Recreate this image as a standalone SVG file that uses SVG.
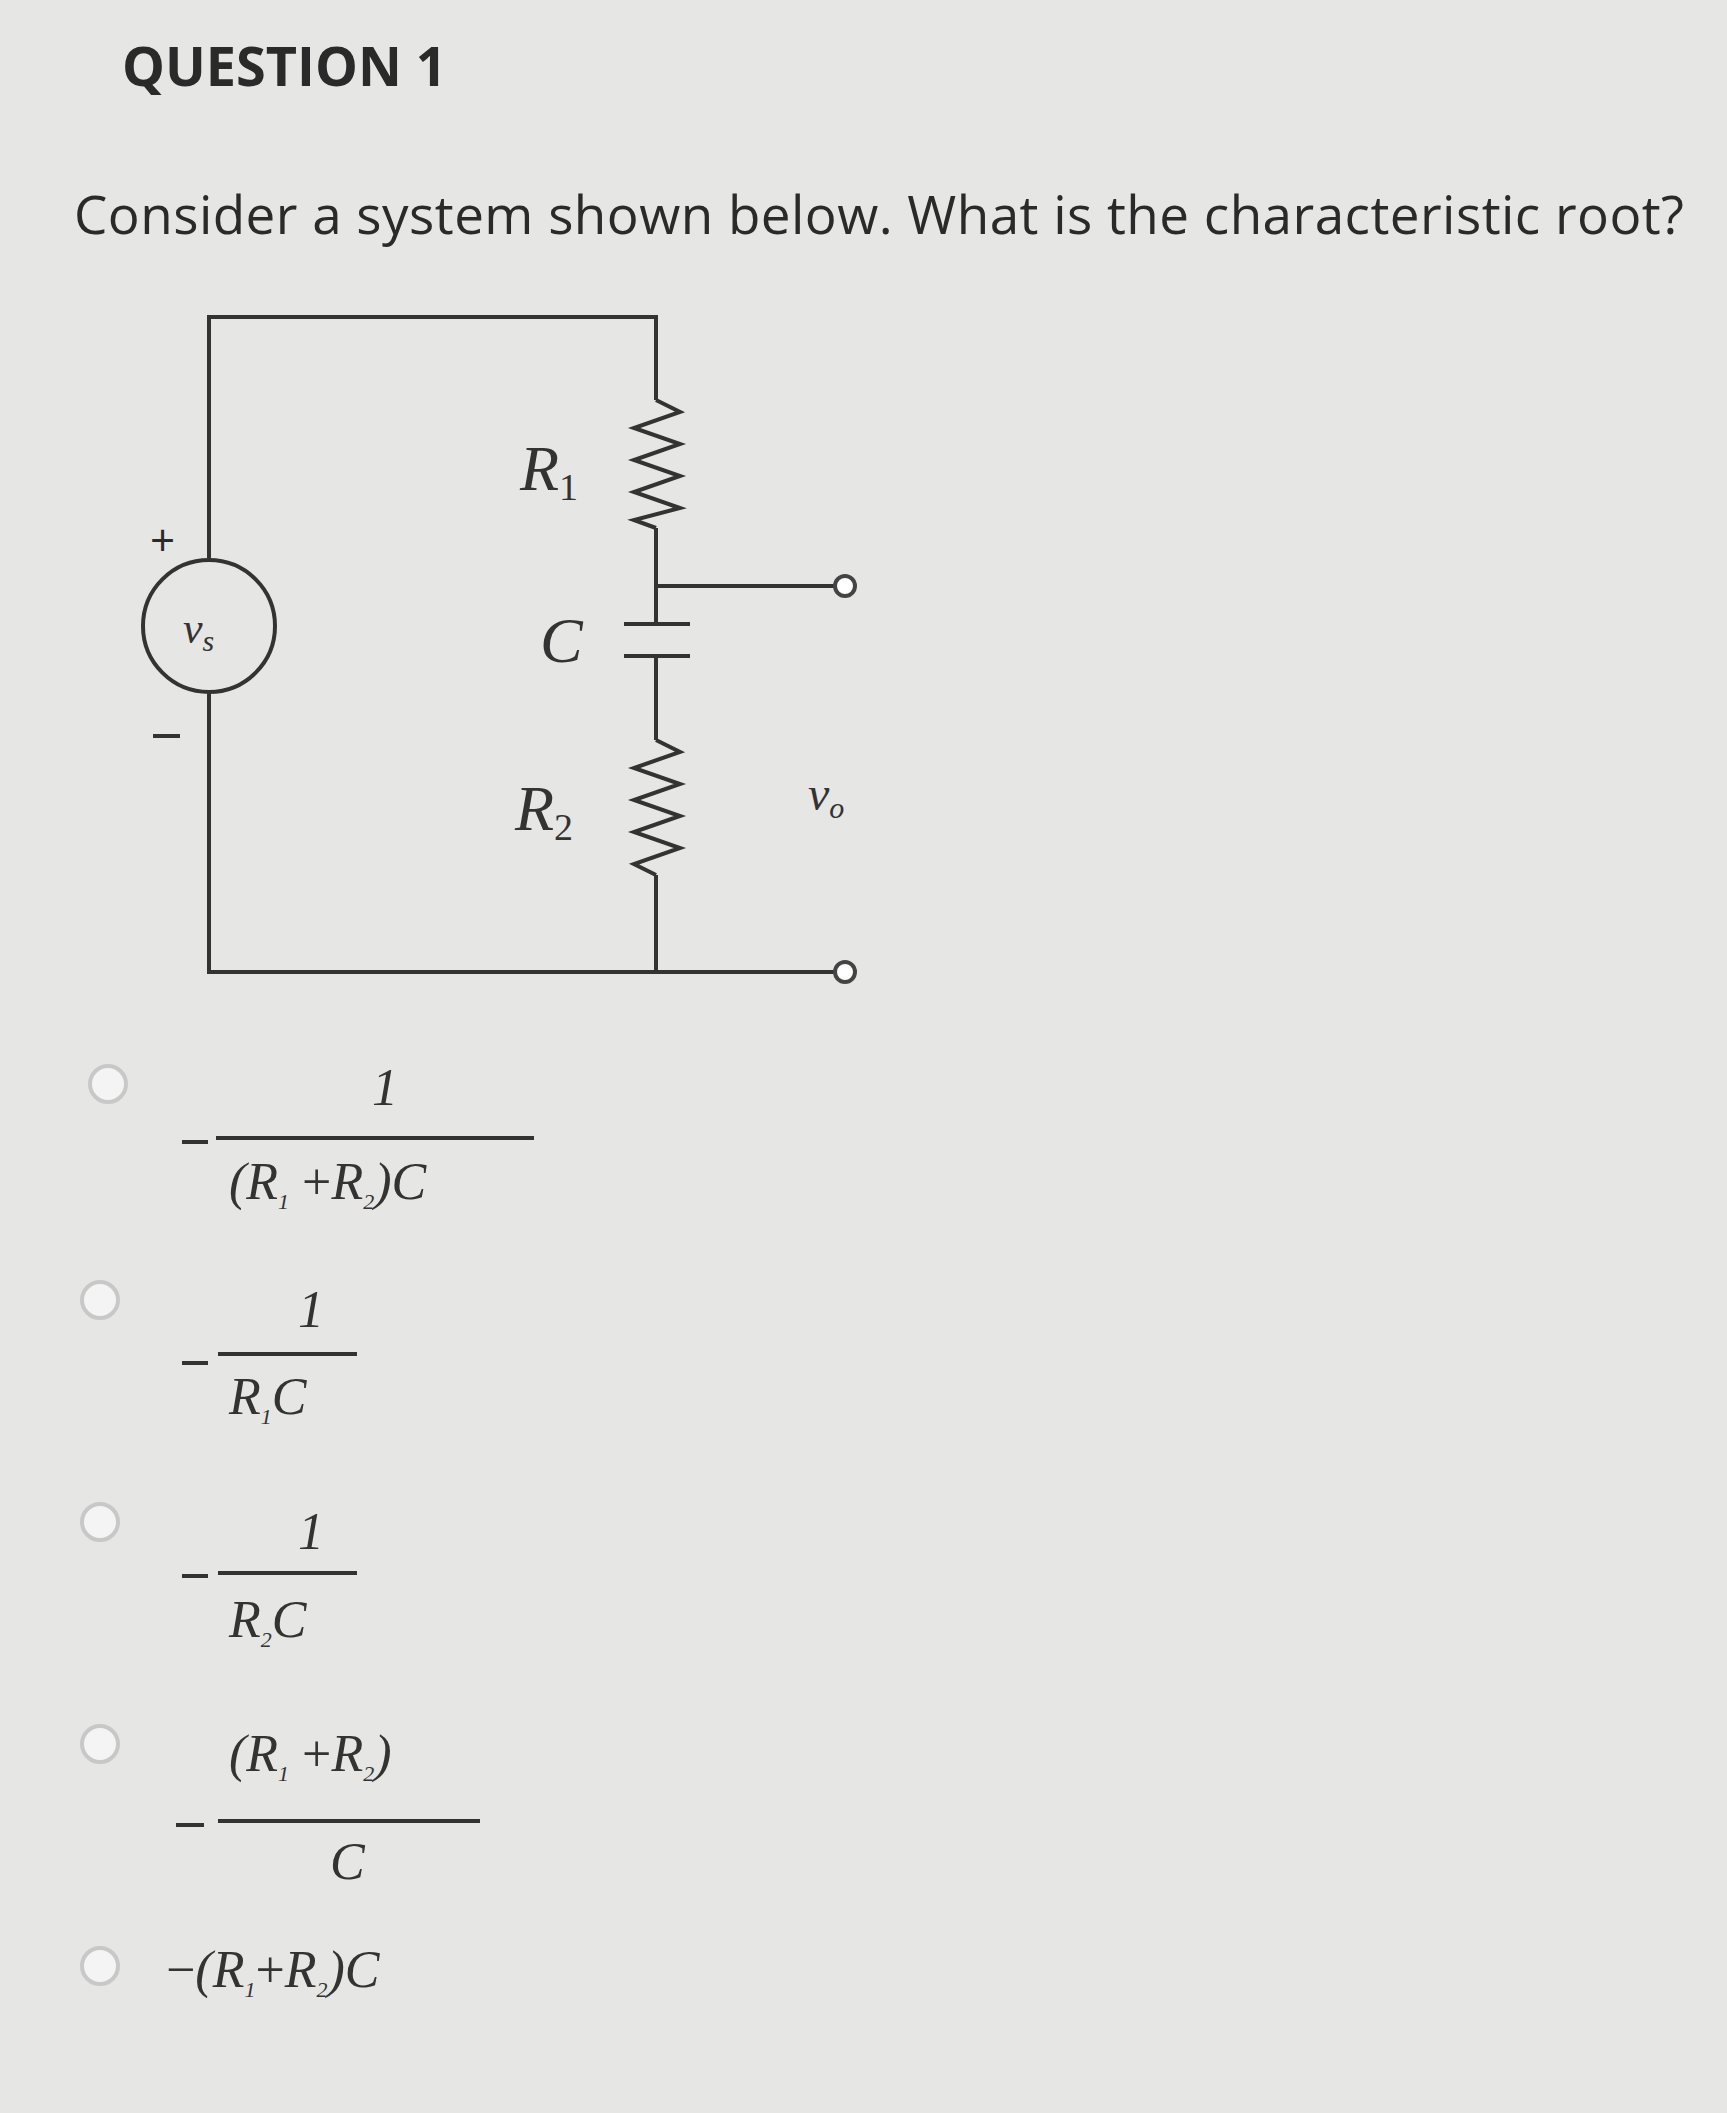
<svg xmlns="http://www.w3.org/2000/svg" width="1727" height="2113" viewBox="0 0 1727 2113">
<style>
.t{font-family:"Open Sans","Liberation Sans",sans-serif;fill:#2a2a2a}
.m{font-family:"Liberation Serif",serif;font-style:italic;fill:#333}
.w{stroke:#333;stroke-width:4;fill:none}
.r{fill:#f4f4f4;stroke:#c8c8c8;stroke-width:4}
.s{font-size:22px}
</style>
<rect width="1727" height="2113" fill="#e6e6e4"/>
<text class="t" x="122" y="86" font-size="54" font-weight="bold">QUESTION 1</text>
<text class="t" x="74" y="234" font-size="53" textLength="1610">Consider a system shown below. What is the characteristic root?</text>
<g id="wires">
<polyline class="w" points="656,400 656,317 209,317 209,558"/>
<polyline class="w" points="209,694 209,972 842,972"/>
<polyline class="w" points="656,528 656,624"/>
<polyline class="w" points="656,656 656,740"/>
<polyline class="w" points="656,875 656,972"/>
<line class="w" x1="656" y1="586" x2="836" y2="586"/>
</g>
<g id="source"><circle class="w" cx="209" cy="626" r="66"/>
<text class="m" x="183" y="643" font-size="44">v<tspan font-size="30" dy="8">s</tspan></text>
<text class="t" x="150" y="556" font-size="44">+</text>
<line class="w" x1="153" y1="736" x2="180" y2="736"/></g>
<g id="R1"><polyline class="w" points="656,400 680,412 634,428 680,444 634,460 680,476 634,492 680,508 634,520 656,528"/>
<text class="m" x="520" y="490" font-size="64">R<tspan font-size="38" dy="10" font-style="normal">1</tspan></text></g>
<g id="C"><line class="w" x1="624" y1="624" x2="690" y2="624"/><line class="w" x1="624" y1="656" x2="690" y2="656"/>
<text class="m" x="540" y="662" font-size="64">C</text></g>
<g id="R2"><polyline class="w" points="656,740 680,752 634,768 680,784 634,800 680,816 634,832 680,848 634,864 656,875"/>
<text class="m" x="515" y="830" font-size="64">R<tspan font-size="38" dy="10" font-style="normal">2</tspan></text></g>
<g id="out"><circle cx="845" cy="586" r="10" fill="#fff" stroke="#444" stroke-width="4"/>
<circle cx="845" cy="972" r="10" fill="#fff" stroke="#444" stroke-width="4"/>
<text class="m" x="808" y="810" font-size="48" fill="#666">v<tspan font-size="30" dy="8">o</tspan></text></g>
<g id="opt1"><circle class="r" cx="108" cy="1084" r="18"/>
<line class="w" x1="182" y1="1142" x2="208" y2="1142"/>
<text class="m" x="372" y="1105" font-size="52" font-style="normal">1</text>
<line class="w" x1="216" y1="1138" x2="534" y2="1138"/>
<text class="m" x="229" y="1199" font-size="52">(R<tspan class="s" dy="10">1</tspan><tspan dy="-10" font-style="normal"> +</tspan>R<tspan class="s" dy="10">2</tspan><tspan dy="-10">)C</tspan></text></g>
<g id="opt2"><circle class="r" cx="100" cy="1300" r="18"/>
<line class="w" x1="182" y1="1363" x2="208" y2="1363"/>
<text class="m" x="298" y="1327" font-size="52" font-style="normal">1</text>
<line class="w" x1="218" y1="1354" x2="357" y2="1354"/>
<text class="m" x="229" y="1414" font-size="52">R<tspan class="s" dy="10">1</tspan><tspan dy="-10">C</tspan></text></g>
<g id="opt3"><circle class="r" cx="100" cy="1522" r="18"/>
<line class="w" x1="182" y1="1576" x2="208" y2="1576"/>
<text class="m" x="298" y="1549" font-size="52" font-style="normal">1</text>
<line class="w" x1="218" y1="1573" x2="357" y2="1573"/>
<text class="m" x="229" y="1637" font-size="52">R<tspan class="s" dy="10">2</tspan><tspan dy="-10">C</tspan></text></g>
<g id="opt4"><circle class="r" cx="100" cy="1744" r="18"/>
<line class="w" x1="176" y1="1825" x2="204" y2="1825"/>
<text class="m" x="229" y="1771" font-size="52">(R<tspan class="s" dy="10">1</tspan><tspan dy="-10" font-style="normal"> +</tspan>R<tspan class="s" dy="10">2</tspan><tspan dy="-10">)</tspan></text>
<line class="w" x1="218" y1="1821" x2="480" y2="1821"/>
<text class="m" x="330" y="1879" font-size="52">C</text></g>
<g id="opt5"><circle class="r" cx="100" cy="1966" r="18"/>
<text class="m" x="166" y="1987" font-size="52"><tspan font-style="normal">−</tspan>(R<tspan class="s" dy="10">1</tspan><tspan dy="-10" font-style="normal">+</tspan>R<tspan class="s" dy="10">2</tspan><tspan dy="-10">)C</tspan></text></g>
</svg>
